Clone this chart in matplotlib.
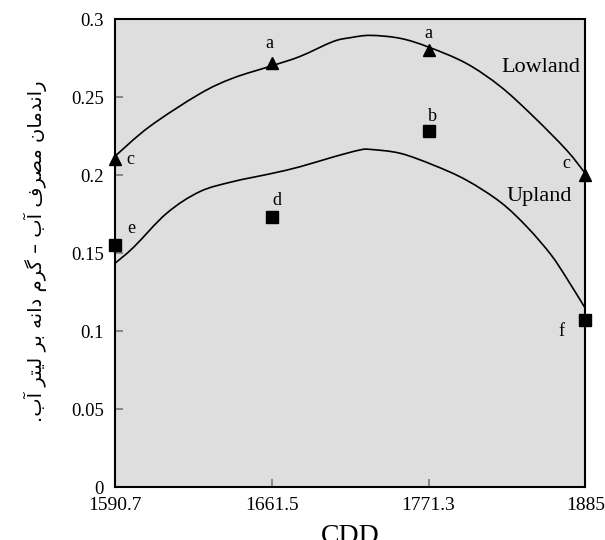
import matplotlib
matplotlib.use("Agg")
import matplotlib.pyplot as plt
from matplotlib.path import Path
from matplotlib.patches import PathPatch

# ---- data ----
cdd_labels = ["1590.7", "1661.5", "1771.3", "1885"]
cdd_pos = [0, 1, 2, 3]
lowland = [0.21, 0.272, 0.280, 0.200]
upland = [0.155, 0.173, 0.228, 0.107]
lowland_letters = ["c", "a", "a", "c"]
upland_letters = ["e", "d", "b", "f"]

# trend curves (x in category-index units)
low_curve_x = [0, 0.22, 0.54, 0.75, 1.0, 1.18, 1.39, 1.5, 1.63, 1.82, 2.0, 2.24, 2.46, 2.67, 2.88, 3.0]
low_curve_y = [0.212, 0.231, 0.252, 0.262, 0.270, 0.276, 0.2855, 0.288, 0.2895, 0.2876, 0.282,
               0.2716, 0.2566, 0.2374, 0.216, 0.201]
up_curve_x = [0, 0.12, 0.33, 0.54, 0.75, 1.0, 1.18, 1.39, 1.56, 1.63, 1.82, 2.03, 2.24, 2.46,
              2.63, 2.78, 2.88, 3.0]
up_curve_y = [0.1434, 0.1538, 0.1755, 0.1893, 0.1957, 0.201, 0.2053, 0.2115, 0.216, 0.2164,
              0.2139, 0.2064, 0.1968, 0.1825, 0.1665, 0.149, 0.134, 0.1145]

y_ticks = [0, 0.05, 0.1, 0.15, 0.2, 0.25, 0.3]
y_tick_labels = ["0", "0.05", "0.1", "0.15", "0.2", "0.25", "0.3"]

# Persian y label: "راندمان مصرف آب – گرم دانه بر لیتر آب."
# written with contextual presentation forms, then reversed for visual (RTL) order
ylabel_logical = ("\uFEAD\uFE8D\uFEE7\uFEAA\uFEE3\uFE8E\uFEE5" + " " +
                  "\uFEE3\uFEBC\uFEAE\uFED1" + " " +
                  "\uFE81\uFE8F" + " \u2013 " +
                  "\uFB94\uFEAE\uFEE1" + " " +
                  "\uFEA9\uFE8D\uFEE7\uFEEA" + " " +
                  "\uFE91\uFEAE" + " " +
                  "\uFEDF\uFBFF\uFE98\uFEAE" + " " +
                  "\uFE81\uFE8F" + ".")
ylabel_visual = ylabel_logical[::-1]

serif = "Liberation Serif"


def smooth_path(xs, ys):
    """Catmull-Rom through the read points, as cubic Bezier segments."""
    pts = list(zip(xs, ys))
    verts = [pts[0]]
    codes = [Path.MOVETO]
    n = len(pts)
    for i in range(n - 1):
        p0 = pts[i - 1] if i > 0 else pts[i]
        p1 = pts[i]
        p2 = pts[i + 1]
        p3 = pts[i + 2] if i + 2 < n else pts[i + 1]
        c1 = (p1[0] + (p2[0] - p0[0]) / 6, p1[1] + (p2[1] - p0[1]) / 6)
        c2 = (p2[0] - (p3[0] - p1[0]) / 6, p2[1] - (p3[1] - p1[1]) / 6)
        verts += [c1, c2, p2]
        codes += [Path.CURVE4] * 3
    return Path(verts, codes)


fig = plt.figure(figsize=(6.05, 5.4), dpi=100)
ax = fig.add_axes([0.190, 0.0981, 0.7775, 0.8667])
ax.set_facecolor("#dedede")

for cx, cy in [(low_curve_x, low_curve_y), (up_curve_x, up_curve_y)]:
    ax.add_patch(PathPatch(smooth_path(cx, cy), facecolor="none", edgecolor="black", lw=1.2))

ax.plot(cdd_pos, lowland, linestyle="none", marker="^", color="black", markersize=9, clip_on=False, zorder=5)
ax.plot(cdd_pos, upland, linestyle="none", marker="s", color="black", markersize=8, clip_on=False, zorder=5)

ax.set_xlim(0, 3)
ax.set_ylim(0, 0.3)
ax.set_xticks(cdd_pos)
ax.set_xticklabels(cdd_labels, fontfamily=serif, fontsize=14)
ax.set_yticks(y_ticks)
ax.set_yticklabels(y_tick_labels, fontfamily=serif, fontsize=13.5)
ax.tick_params(axis="both", direction="in", length=6, width=1.2, color="#777777")
ax.tick_params(axis="y", pad=8)
ax.tick_params(axis="x", pad=7)
for s in ax.spines.values():
    s.set_linewidth(1.5)
    s.set_color("black")

# letters
low_offsets = [(11, 0), (-2, 14), (0, 12), (-14, 8)]
up_offsets = [(12, 12), (4, 12), (3, 11), (-17, -8)]
for x, y, t, (dx, dy) in zip(cdd_pos, lowland, lowland_letters, low_offsets):
    ax.annotate(t, (x, y), xytext=(dx, dy), textcoords="offset points", ha="center", va="center",
                fontfamily=serif, fontsize=13)
for x, y, t, (dx, dy) in zip(cdd_pos, upland, upland_letters, up_offsets):
    ax.annotate(t, (x, y), xytext=(dx, dy), textcoords="offset points", ha="center", va="center",
                fontfamily=serif, fontsize=13)

ax.text(2.714, 0.269, "Lowland", fontfamily=serif, fontsize=16, ha="center", va="center")
ax.text(2.705, 0.1865, "Upland", fontfamily=serif, fontsize=16, ha="center", va="center")

fig.text(350 / 605, 1 - 543 / 540, "CDD", fontfamily=serif, fontsize=20, ha="center", va="baseline")
fig.text(35 / 605, 1 - 251 / 540, ylabel_visual, family=["DejaVu Sans"], fontsize=14,
         rotation=90, ha="center", va="center")

fig.savefig("out.png", dpi=100)
